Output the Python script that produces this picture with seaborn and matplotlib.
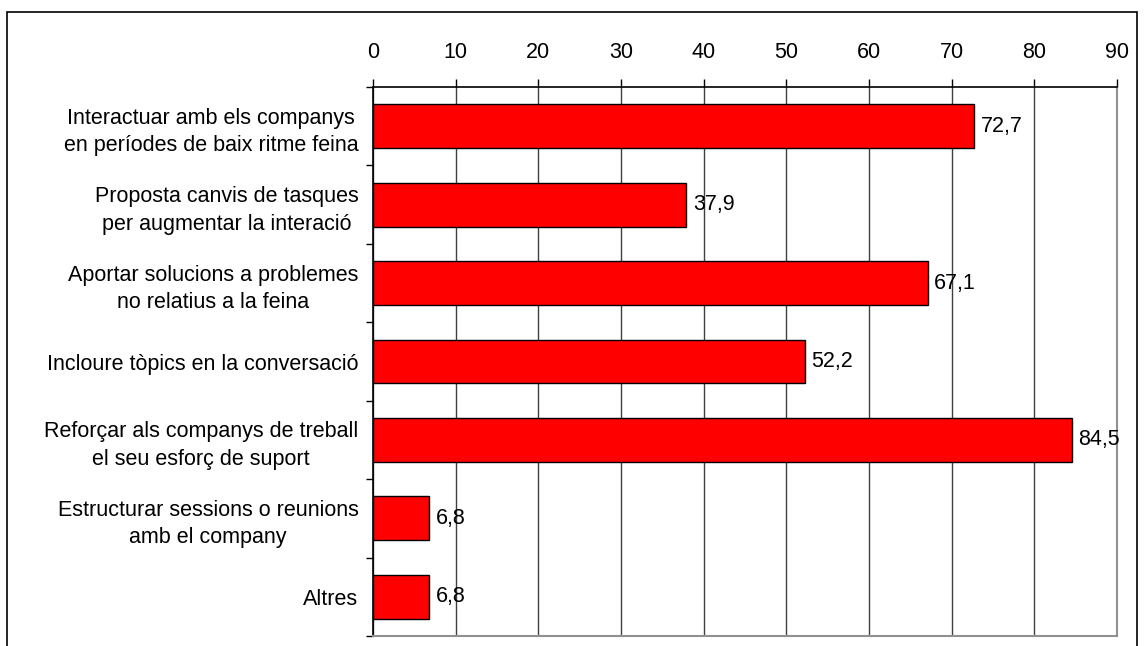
import matplotlib
matplotlib.use("Agg")
import matplotlib.pyplot as plt
import matplotlib.patches as mpatches
from matplotlib.ticker import FixedLocator
import seaborn as sns
import pandas as pd

# dades del gràfic
categories = [
    "Interactuar amb els companys\nen períodes de baix ritme feina",
    "Proposta canvis de tasques\nper augmentar la interació",
    "Aportar solucions a problemes\nno relatius a la feina",
    "Incloure tòpics en la conversació",
    "Reforçar als companys de treball\nel seu esforç de suport",
    "Estructurar sessions o reunions\namb el company",
    "Altres",
]
valors = [72.7, 37.9, 67.1, 52.2, 84.5, 6.8, 6.8]
ticks_x = [0, 10, 20, 30, 40, 50, 60, 70, 80, 90]

df = pd.DataFrame({"categoria": categories, "valor": valors})

sns.set_style("white")
plt.rcParams["font.family"] = ["Liberation Sans", "DejaVu Sans"]
plt.rcParams["text.color"] = "black"
plt.rcParams["xtick.color"] = "black"
plt.rcParams["ytick.color"] = "black"

fs = 15.5

fig = plt.figure(figsize=(11.44, 6.46), dpi=100)
ax = fig.add_axes([373 / 1144, 1 - 636 / 646, (1117 - 373) / 1144, (636 - 87) / 646])

sns.barplot(data=df, x="valor", y="categoria", orient="h", color="#ff0000",
            edgecolor="black", linewidth=1.0, width=0.56, saturation=1, ax=ax, zorder=3)

ax.set_xlim(0, 90)
ax.set_ylim(6.5, -0.5)
ax.set_xticks(ticks_x)
ax.xaxis.tick_top()
ax.tick_params(axis="x", top=True, bottom=False, direction="out", length=6,
               width=1, color="black", labelsize=fs, labelcolor="black", pad=11)
ax.tick_params(axis="y", which="major", left=False, labelsize=fs, labelcolor="black", pad=7)
for lab in ax.get_yticklabels():
    lab.set_multialignment("center")
    lab.set_linespacing(1.4)
ax.yaxis.set_minor_locator(FixedLocator([i - 0.5 for i in range(8)]))
ax.tick_params(axis="y", which="minor", left=True, direction="out", length=5,
               width=1, color="black")
ax.set_xlabel("")
ax.set_ylabel("")
ax.grid(axis="x", color="#404040", linewidth=1, zorder=0)
ax.set_axisbelow(True)

for nom in ["top", "left"]:
    ax.spines[nom].set_color("black")
    ax.spines[nom].set_linewidth(1.2)
for nom in ["right", "bottom"]:
    ax.spines[nom].set_color("#909090")
    ax.spines[nom].set_linewidth(1.5)

for i, v in enumerate(valors):
    ax.text(v + 0.8, i, f"{v:.1f}".replace(".", ","), va="center", ha="left",
            fontsize=fs, color="black", zorder=5)

# marc exterior
marc = mpatches.Rectangle((7 / 1144, -0.05), 1130 / 1144, 1.05 - 12 / 646,
                          transform=fig.transFigure, fill=False,
                          edgecolor="black", linewidth=1.2)
fig.patches.append(marc)

fig.savefig("out.png", dpi=100)
